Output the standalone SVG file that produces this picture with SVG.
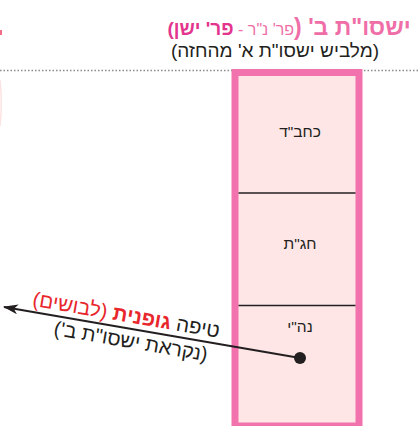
<svg xmlns="http://www.w3.org/2000/svg" width="420" height="426" viewBox="0 0 420 426">
<style>
text{font-family:"Liberation Sans","DejaVu Sans",sans-serif;}
.pink{fill:#ef6ea8;}
.mag{fill:#e3358e;}
.red{fill:#e8262c;}
.blk{fill:#231f20;}
.lbl{font-size:15.5px;fill:#231f20;text-anchor:middle;}
.div{stroke:#231f20;stroke-width:1.5;}
</style>
<defs>
<marker id="ah" viewBox="0 0 15 10" refX="14" refY="5" markerWidth="15" markerHeight="10" markerUnits="userSpaceOnUse" orient="auto">
<path d="M0,0 L15,5 L0,10 L4,5 Z" fill="#231f20"/>
</marker>
</defs>
<rect width="420" height="426" fill="#ffffff"/>
<!-- edge fragments -->
<rect x="0" y="30" width="2" height="5" fill="#f26d8a"/>
<path d="M0,80 Q2.5,103 0,126" fill="none" stroke="#fde2e2" stroke-width="1.5"/>
<line x1="0" y1="70.5" x2="420" y2="70.5" stroke="#8a8a8a" stroke-width="1.5" stroke-dasharray="1.5 2"/>
<g id="title">
<text x="289" y="35" direction="rtl" text-anchor="middle"><tspan class="pink" font-size="23" font-weight="bold">ישסו"ת ב' (</tspan><tspan class="pink" font-size="16">פר' נ"ר - </tspan><tspan class="mag" font-size="19" font-weight="bold">פר' ישן)</tspan></text>
<text x="275" y="57" direction="rtl" text-anchor="middle" class="blk" font-size="19">(מלביש ישסו"ת א' מהחזה)</text>
</g>
<g id="column">
<rect x="235" y="72.5" width="124" height="353.5" fill="#fee6e7" stroke="#f172ad" stroke-width="7"/>
<line class="div" x1="238.5" y1="193" x2="355.5" y2="193"/>
<line class="div" x1="238.5" y1="305.5" x2="355.5" y2="305.5"/>
</g>
<g id="node-chabad"><text class="lbl" x="300" y="137" direction="rtl">כחב"ד</text></g>
<g id="node-chagat"><text class="lbl" x="300" y="249" direction="rtl">חג"ת</text></g>
<g id="node-nehi"><text class="lbl" x="300" y="332" direction="rtl">נה"י</text></g>
<g id="connectors">
<line x1="300" y1="358" x2="4" y2="307" stroke="#231f20" stroke-width="2" marker-end="url(#ah)"/>
<circle cx="300" cy="358" r="6" fill="#231f20"/>
</g>
<g id="arrow-label" transform="translate(130,328.7) rotate(9.78)">
<text x="-6" y="-6" direction="rtl" text-anchor="middle" font-size="20.5"><tspan class="blk">טיפה </tspan><tspan class="red" font-weight="bold">גופנית </tspan><tspan class="red">(לבושים)</tspan></text>
<text x="3" y="19" direction="rtl" text-anchor="middle" class="blk" font-size="20">(נקראת ישסו"ת ב')</text>
</g>
</svg>
